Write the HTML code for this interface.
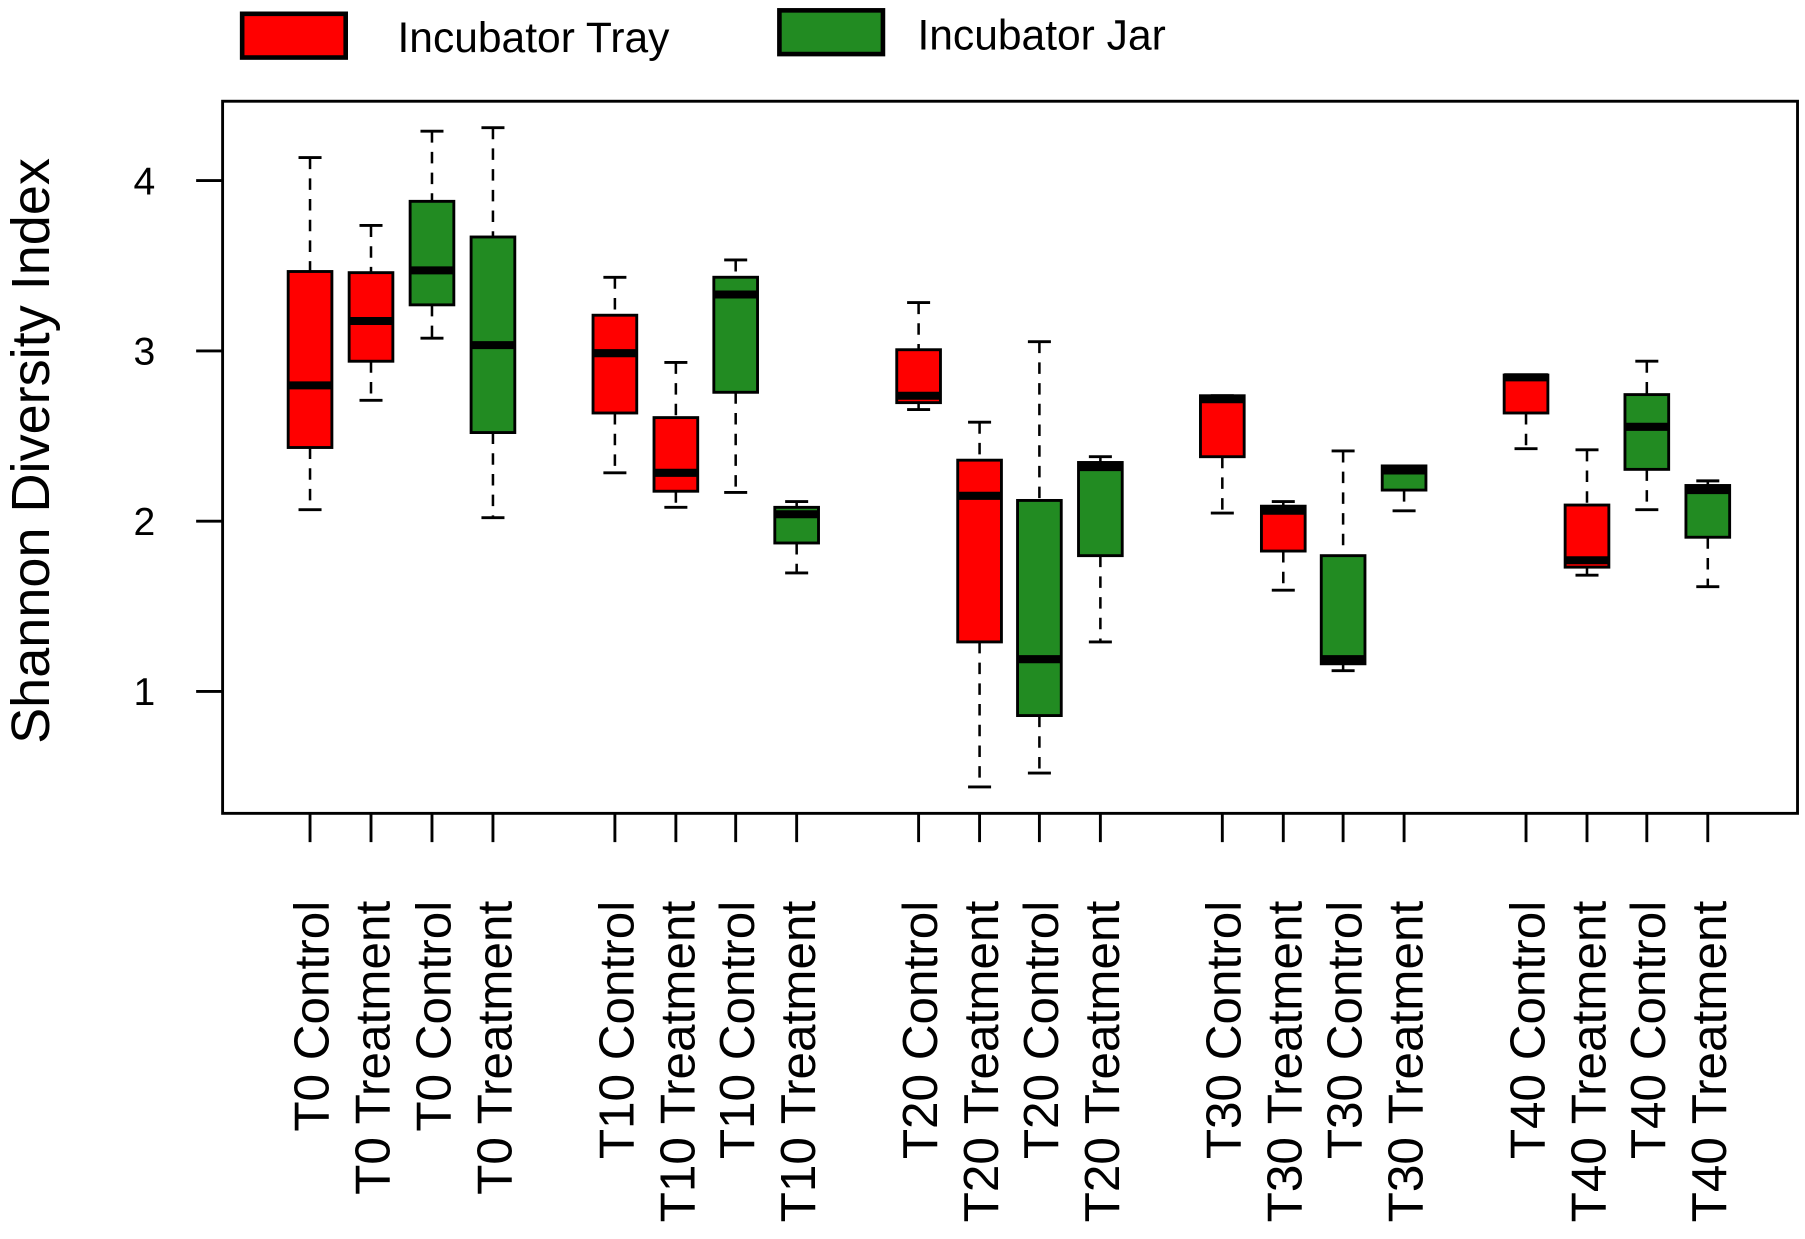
<!DOCTYPE html>
<html><head><meta charset="utf-8"><style>html,body{margin:0;padding:0;background:#fff}svg{display:block}</style></head><body>
<svg width="1805" height="1239" viewBox="0 0 1568 1077" xmlns="http://www.w3.org/2000/svg" font-family="Liberation Sans, Arial, sans-serif">
<rect x="0" y="0" width="1568" height="1077" fill="#fff"/>
<rect x="210" y="12" width="90" height="38" fill="#FF0000" stroke="#000" stroke-width="4"/>
<text x="345" y="45" font-size="37">Incubator Tray</text>
<rect x="677" y="9" width="90" height="38" fill="#228B22" stroke="#000" stroke-width="4"/>
<text x="797" y="43" font-size="37">Incubator Jar</text>
<text transform="translate(42,392) rotate(-90)" text-anchor="middle" font-size="47">Shannon Diversity Index</text>
<rect x="193" y="88" width="1369" height="619" fill="none" stroke="#000" stroke-width="2.5"/>
<g stroke="#000" stroke-width="2.5">
<line x1="170" y1="157" x2="193" y2="157"/><line x1="170" y1="305" x2="193" y2="305"/><line x1="170" y1="453" x2="193" y2="453"/><line x1="170" y1="601" x2="193" y2="601"/>
</g>
<g font-size="34" text-anchor="middle">
<text x="125" y="169">4</text><text x="125" y="317">3</text><text x="125" y="465">2</text><text x="125" y="613">1</text>
</g>
<g stroke="#000" stroke-width="2.2" stroke-dasharray="10,8" fill="none">
<path d="M269 137V236M269 389V443 M322 196V237M322 314V348 M375 114V175M375 265V294 M428 111V206M428 376V450
M534 241V274M534 359V411 M587 315V363M587 427V441 M639 226V241M639 341V428 M692 436V441M692 472V498
M798 263V304M798 350V356 M851 367V400M851 558V684 M903 297V435M903 622V672 M956 397V402M956 483V558
M1062 344V344M1062 397V446 M1115 436V440M1115 479V513 M1167 392V483M1167 577V583 M1220 405V405M1220 426V444
M1326 326V326M1326 359V390 M1379 391V439M1379 493V500 M1431 314V343M1431 408V443 M1484 418V422M1484 467V510"/>
</g>
<g stroke="#000" stroke-width="2.5" fill="none">
<path d="M259 137H279M259 443H279 M312 196H332M312 348H332 M365 114H385M365 294H385 M418 111H438M418 450H438
M524 241H544M524 411H544 M577 315H597M577 441H597 M629 226H649M629 428H649 M682 436H702M682 498H702
M788 263H808M788 356H808 M841 367H861M841 684H861 M893 297H913M893 672H913 M946 397H966M946 558H966
M1052 344H1072M1052 446H1072 M1105 436H1125M1105 513H1125 M1157 392H1177M1157 583H1177 M1210 405H1230M1210 444H1230
M1316 326H1336M1316 390H1336 M1369 391H1389M1369 500H1389 M1421 314H1441M1421 443H1441 M1474 418H1494M1474 510H1494"/>
</g>
<g stroke="#000" stroke-width="2.5">
<rect x="250" y="236" width="38" height="153" fill="#FF0000"/>
<rect x="303" y="237" width="38" height="77" fill="#FF0000"/>
<rect x="356" y="175" width="38" height="90" fill="#228B22"/>
<rect x="409" y="206" width="38" height="170" fill="#228B22"/>
<rect x="515" y="274" width="38" height="85" fill="#FF0000"/>
<rect x="568" y="363" width="38" height="64" fill="#FF0000"/>
<rect x="620" y="241" width="38" height="100" fill="#228B22"/>
<rect x="673" y="441" width="38" height="31" fill="#228B22"/>
<rect x="779" y="304" width="38" height="46" fill="#FF0000"/>
<rect x="832" y="400" width="38" height="158" fill="#FF0000"/>
<rect x="884" y="435" width="38" height="187" fill="#228B22"/>
<rect x="937" y="402" width="38" height="81" fill="#228B22"/>
<rect x="1043" y="344" width="38" height="53" fill="#FF0000"/>
<rect x="1096" y="440" width="38" height="39" fill="#FF0000"/>
<rect x="1148" y="483" width="38" height="94" fill="#228B22"/>
<rect x="1201" y="405" width="38" height="21" fill="#228B22"/>
<rect x="1307" y="326" width="38" height="33" fill="#FF0000"/>
<rect x="1360" y="439" width="38" height="54" fill="#FF0000"/>
<rect x="1412" y="343" width="38" height="65" fill="#228B22"/>
<rect x="1465" y="422" width="38" height="45" fill="#228B22"/>
</g>
<g stroke="#000" stroke-width="7" fill="none">
<path d="M250 335H288 M303 279H341 M356 235H394 M409 300H447 M515 307H553 M568 411H606 M620 256H658 M673 447H711
M779 344H817 M832 431H870 M884 573H922 M937 406H975 M1043 347H1081 M1096 444H1134 M1148 573H1186 M1201 409H1239
M1307 328H1345 M1360 487H1398 M1412 371H1450 M1465 426H1503"/>
</g>
<g stroke="#000" stroke-width="2.5" fill="none">
<path d="M269 707V732M322 707V732M375 707V732M428 707V732 M534 707V732M587 707V732M639 707V732M692 707V732
M798 707V732M851 707V732M903 707V732M956 707V732 M1062 707V732M1115 707V732M1167 707V732M1220 707V732
M1326 707V732M1379 707V732M1431 707V732M1484 707V732"/>
</g>
<g font-size="43" text-anchor="end">
<text transform="translate(285,783) rotate(-90)">T0 Control</text>
<text transform="translate(338,783) rotate(-90)">T0 Treatment</text>
<text transform="translate(391,783) rotate(-90)">T0 Control</text>
<text transform="translate(444,783) rotate(-90)">T0 Treatment</text>
<text transform="translate(550,783) rotate(-90)">T10 Control</text>
<text transform="translate(603,783) rotate(-90)">T10 Treatment</text>
<text transform="translate(655,783) rotate(-90)">T10 Control</text>
<text transform="translate(708,783) rotate(-90)">T10 Treatment</text>
<text transform="translate(814,783) rotate(-90)">T20 Control</text>
<text transform="translate(867,783) rotate(-90)">T20 Treatment</text>
<text transform="translate(919,783) rotate(-90)">T20 Control</text>
<text transform="translate(972,783) rotate(-90)">T20 Treatment</text>
<text transform="translate(1078,783) rotate(-90)">T30 Control</text>
<text transform="translate(1131,783) rotate(-90)">T30 Treatment</text>
<text transform="translate(1183,783) rotate(-90)">T30 Control</text>
<text transform="translate(1236,783) rotate(-90)">T30 Treatment</text>
<text transform="translate(1342,783) rotate(-90)">T40 Control</text>
<text transform="translate(1395,783) rotate(-90)">T40 Treatment</text>
<text transform="translate(1447,783) rotate(-90)">T40 Control</text>
<text transform="translate(1500,783) rotate(-90)">T40 Treatment</text>
</g>
</svg>
</body></html>
